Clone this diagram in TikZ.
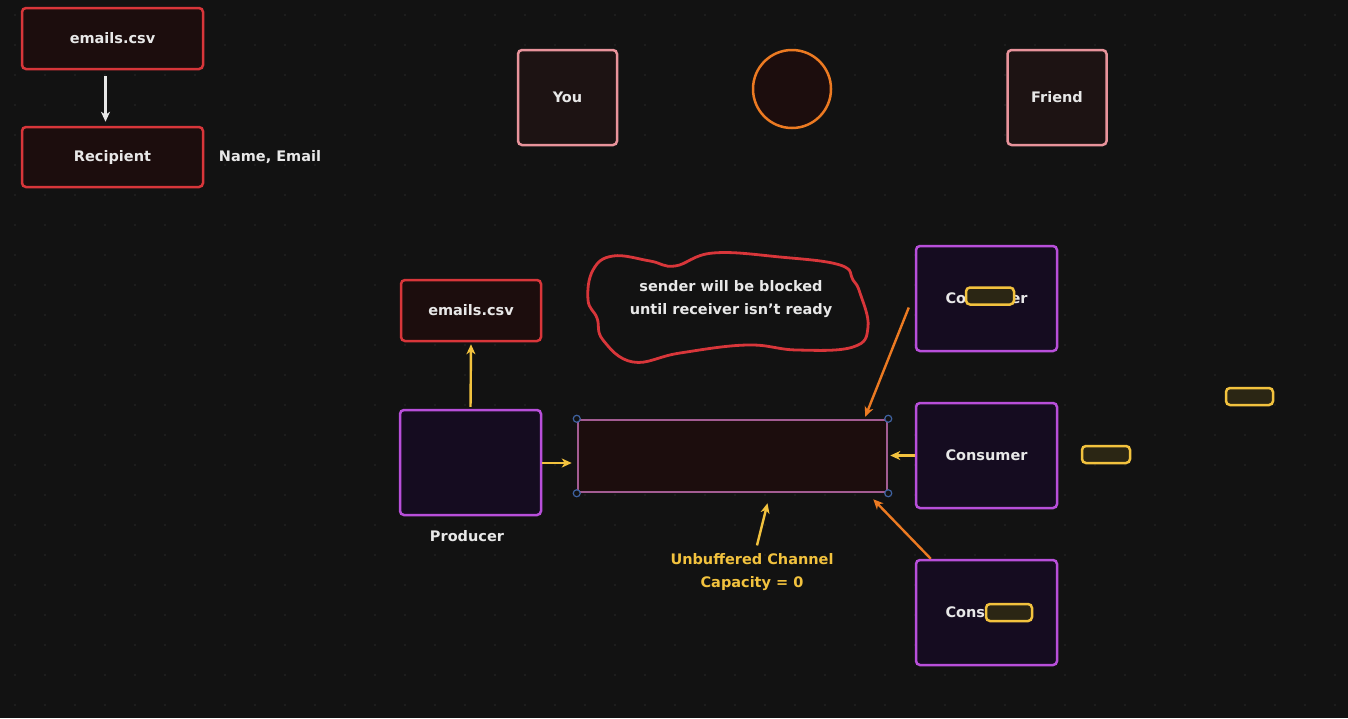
\documentclass[tikz,border=0pt]{standalone}
\usepackage{fontspec}
\setmainfont{DejaVu Sans}
\usetikzlibrary{arrows.meta}
\definecolor{bg}{HTML}{121212}
\definecolor{gridc}{HTML}{2A2A2A}
\definecolor{txt}{HTML}{E8E8E8}
\definecolor{redln}{HTML}{D8363A}
\definecolor{redfl}{HTML}{1C0D0D}
\definecolor{pinkln}{HTML}{E8939B}
\definecolor{pinkfl}{HTML}{1D1313}
\definecolor{orng}{HTML}{EC7A22}
\definecolor{purln}{HTML}{B84FDA}
\definecolor{purfl}{HTML}{150C20}
\definecolor{chln}{HTML}{A35C92}
\definecolor{ylw}{HTML}{F2C23E}
\definecolor{pillfl}{HTML}{2B2614}
\definecolor{hndl}{HTML}{3F62A0}
\tikzset{
  lbl/.style={text=txt, font=\bfseries\fontsize{14.5}{23}\selectfont, align=center},
  box/.style={lbl, draw, rounded corners=4pt, line width=2.5pt},
  redbox/.style={box, draw=redln, fill=redfl},
  pinkbox/.style={box, draw=pinkln, fill=pinkfl, minimum width=99pt, minimum height=95pt},
  purbox/.style={box, draw=purln, fill=purfl, minimum width=141pt, minimum height=105pt},
  pill/.style={draw=ylw, fill=pillfl, line width=2.5pt, rounded corners=4pt, minimum height=17pt},
  arr/.style={-{Stealth[length=10pt,width=9pt,inset=3pt]}, line width=2.4pt},
  hnd/.style={draw=hndl, fill=bg, line width=1.2pt, circle, inner sep=0pt, minimum size=7pt}
}
\begin{document}
\begin{tikzpicture}[x=1pt, y=-1pt]
		\useasboundingbox (0,0) rectangle (1348,718);
		\fill [bg] (0,0) rectangle (1348,718);
		\foreach \i in {15,45,...,1348} \foreach \j in {15,45,...,718} \fill [gridc] (\i,\j) circle (0.9);
		
		\node (mail1) at (112.5,38.5) [redbox, minimum width=181pt, minimum height=61pt] {emails.csv};
		\node (rcp) at (112.5,157) [redbox, minimum width=181pt, minimum height=60pt] {Recipient};
		\node (fields) at (270,157) [lbl] {Name, Email};
		\draw [arr, draw=txt, shorten <=6pt, shorten >=4pt] ([xshift=-7]mail1.south) -- ([xshift=-7]rcp.north);
		
		\node (you) at (567.5,97.5) [pinkbox] {You};
		\node (hole) at (792,89) [circle, draw=orng, line width=2.5pt, fill=redfl, minimum size=78pt] {};
		\node (friend) at (1057,97.5) [pinkbox] {Friend};
		
		\draw [redln, line width=2.8pt, fill=bg] plot [smooth cycle, tension=.7] coordinates {(593,270) (613,256) (650,261) (675,266) (713,253) (780,257) (840,265) (853,280) (860,293) (868,327) (853,347) (797,350) (747,345) (680,353) (633,362) (603,340) (597,318) (588,300)};
		\node (note) at (731,299) [lbl] {sender will be blocked\\until receiver isn't ready};
		
		\node (mail2) at (471,310.5) [redbox, minimum width=140pt, minimum height=61pt] {emails.csv};
		\node (prod) at (470.5,462.5) [purbox] {};
		\node (prodlbl) at (467,536) [lbl] {Producer};
		\node (ch) at (732.5,456) [draw=chln, fill=redfl, line width=2.5pt, minimum width=309pt, minimum height=72pt] {};
		\node [hnd] at (ch.north west) {};
		\node [hnd] at (ch.north east) {};
		\node [hnd] at (ch.south west) {};
		\node [hnd] at (ch.south east) {};
		
		\node (c1) at (986.5,298.5) [purbox] {Consumer};
		\node (c2) at (986.5,455.5) [purbox] {Consumer};
		\node (c3) at (986.5,612.5) [purbox] {Consumer};
		\node (p1) at (990,296) [pill, minimum width=48pt] {};
		\node (p3) at (1009,612.5) [pill, minimum width=46pt] {};
		\node (p4) at (1249.5,396.5) [pill, minimum width=47pt] {};
		\node (p5) at (1106,454.5) [pill, minimum width=48pt] {};
		
		\node (chlbl) at (752,572.5) [lbl, text=ylw] {Unbuffered Channel\\Capacity = 0};
		
		\draw [arr, draw=ylw, shorten <=2pt] (prod.north) -- ([yshift=-2]mail2.south);
		\draw [arr, draw=ylw, shorten >=5pt] ([yshift=-0.5]prod.east) -- ([yshift=-0.5]prod.east -| ch.west);
		\draw [arr, draw=ylw, shorten >=2pt] (c2.west) -- (c2.west -| ch.east);
		\draw [arr, draw=orng] ([shift={(-6,9)}]c1.west) -- ([shift={(-23,-2)}]ch.north east);
		\draw [arr, draw=orng] ([xshift=16]c3.north west) -- ([shift={(-15,6)}]ch.south east);
		\draw [arr, draw=ylw] ([shift={(5,-5)}]chlbl.north) -- ([shift={(35,10)}]ch.south);
		\end{tikzpicture}
\end{document}
